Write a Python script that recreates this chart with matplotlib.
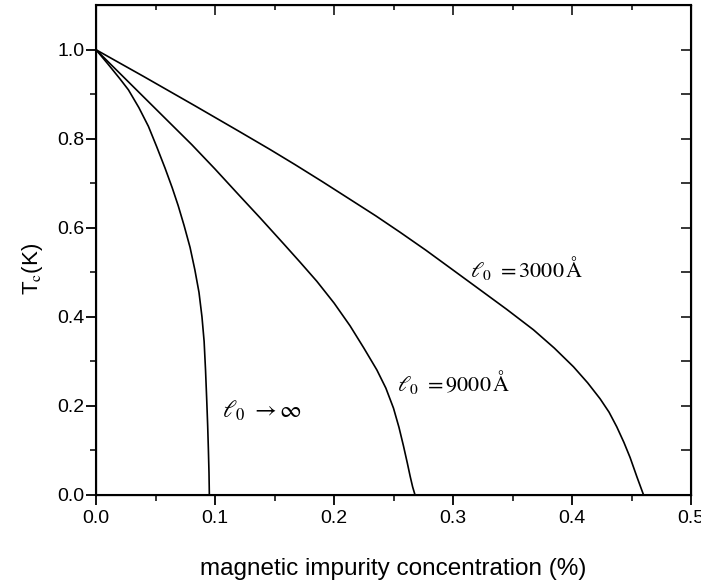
import numpy as np
import matplotlib.pyplot as plt

x_inf = [0, 0.010, 0.020, 0.0272, 0.036, 0.044, 0.051, 0.058, 0.064, 0.069, 0.074, 0.079, 0.083,
         0.0865, 0.089, 0.0908, 0.092, 0.093, 0.0938, 0.0944, 0.0949, 0.0952]
y_inf = [1, 0.968, 0.935, 0.910, 0.870, 0.828, 0.782, 0.734, 0.690, 0.650, 0.605, 0.556, 0.506,
         0.455, 0.400, 0.345, 0.280, 0.213, 0.155, 0.101, 0.05, 0.0]

x_9000 = [0, 0.02, 0.04, 0.06, 0.0804, 0.10, 0.1196, 0.138, 0.158, 0.1714, 0.1855, 0.200, 0.2134,
          0.225, 0.2359, 0.2435, 0.2499, 0.2545, 0.2583, 0.2615, 0.2639, 0.266, 0.268]
y_9000 = [1, 0.947, 0.894, 0.841, 0.787, 0.732, 0.675, 0.622, 0.563, 0.523, 0.480, 0.431, 0.380,
          0.330, 0.281, 0.240, 0.195, 0.152, 0.110, 0.072, 0.042, 0.018, 0.0]

x_3000 = [0, 0.04, 0.0832, 0.12, 0.1462, 0.1672, 0.19, 0.2134, 0.235, 0.2555, 0.277, 0.2975, 0.32,
          0.345, 0.3675, 0.385, 0.4011, 0.413, 0.4235, 0.431, 0.4375, 0.4435, 0.4487, 0.4545, 0.46]
y_3000 = [1, 0.940, 0.874, 0.817, 0.776, 0.742, 0.704, 0.664, 0.627, 0.590, 0.550, 0.510, 0.466,
          0.417, 0.371, 0.330, 0.288, 0.252, 0.216, 0.186, 0.153, 0.118, 0.084, 0.040, 0.0]

xticks = [0.0, 0.1, 0.2, 0.3, 0.4, 0.5]
xtick_labels = ['0.0', '0.1', '0.2', '0.3', '0.4', '0.5']
yticks = [0.0, 0.2, 0.4, 0.6, 0.8, 1.0]
ytick_labels = ['0.0', '0.2', '0.4', '0.6', '0.8', '1.0']

plt.rcParams['mathtext.fontset'] = 'stix'
plt.rcParams['font.family'] = 'Liberation Sans'

fig = plt.figure(figsize=(7.01, 5.82), dpi=100)
ax = fig.add_axes([0.137, 0.1495, 0.849, 0.8415])

ax.plot(x_inf, y_inf, color='black', lw=1.2)
ax.plot(x_9000, y_9000, color='black', lw=1.2)
ax.plot(x_3000, y_3000, color='black', lw=1.2)

ax.set_xlim(0, 0.5)
ax.set_ylim(0, 1.1)
ax.set_xticks(xticks)
ax.set_xticklabels(xtick_labels)
ax.set_yticks(yticks)
ax.set_yticklabels(ytick_labels)
ax.set_xticks(np.arange(0.05, 0.5, 0.1), minor=True)
ax.set_yticks(np.arange(0.1, 1.1, 0.2), minor=True)

ax.tick_params(axis='y', which='major', direction='out', length=7.5, width=1.3, labelsize=14, pad=1)
ax.tick_params(axis='x', which='major', direction='out', length=7.5, width=1.3, labelsize=14, pad=3)
ax.tick_params(which='minor', direction='out', length=4, width=1.1)
for sp in ax.spines.values():
    sp.set_linewidth(1.5)

# inward ticks on top and right
ax2 = ax.twinx()
ax2.set_ylim(0, 1.1)
ax2.set_yticks(yticks)
ax2.set_yticks(np.arange(0.1, 1.1, 0.2), minor=True)
ax2.tick_params(which='both', direction='in', labelright=False, length=7, width=1.1)
ax3 = ax.twiny()
ax3.set_xlim(0, 0.5)
ax3.set_xticks(xticks)
ax3.set_xticks(np.arange(0.05, 0.5, 0.1), minor=True)
ax3.tick_params(which='major', direction='in', labeltop=False, length=7, width=1.1)
ax3.tick_params(which='minor', direction='in', labeltop=False, length=3.5, width=1.1)

ax.set_xlabel('magnetic impurity concentration (%)', fontsize=17.5)
ax.xaxis.set_label_coords(0.5, -0.128)
ax.set_ylabel(r'T$_\mathrm{c}$(K)', fontsize=16)
ax.yaxis.set_label_coords(-0.086, 0.461)

ax.text(0.106, 0.19, r'$\ell_0\ \rightarrow\infty$', fontsize=17, va='center', ha='left')
ax.text(0.253, 0.254, r'$\ell_0\ =9000\,\mathrm{\AA}$', fontsize=16, va='center', ha='left')
ax.text(0.314, 0.51, r'$\ell_0\ =3000\,\mathrm{\AA}$', fontsize=16, va='center', ha='left')

plt.savefig('out.png', dpi=100)
